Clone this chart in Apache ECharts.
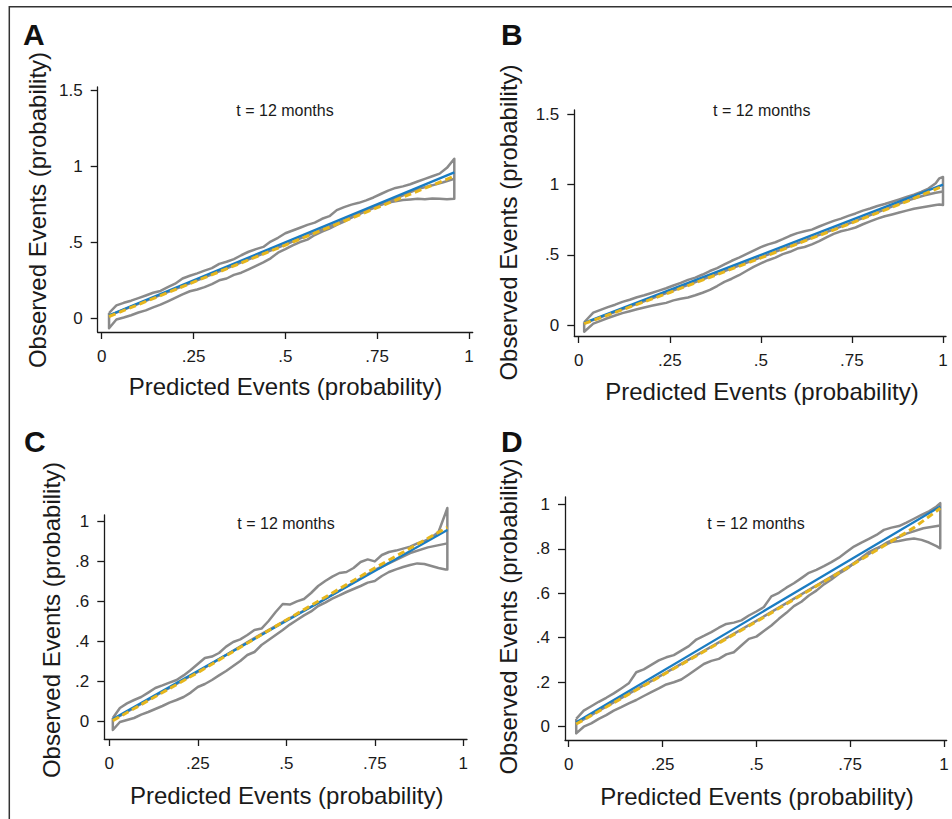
<!DOCTYPE html>
<html><head><meta charset="utf-8">
<script src="https://cdn.jsdelivr.net/npm/echarts@6/dist/echarts.min.js"></script>
<style>html,body{margin:0;padding:0;background:#fff}#c{width:952px;height:819px}</style>
</head><body><div id="c"></div>
<script>
// ---------- tick values / labels ----------
const xTicks = [0, 0.25, 0.5, 0.75, 1];
const xTickLabels = ['0', '.25', '.5', '.75', '1'];
const yTicksAB = [0, 0.5, 1, 1.5];
const yTickLabelsAB = ['0', '.5', '1', '1.5'];
const yTicksCD = [0, 0.2, 0.4, 0.6, 0.8, 1];
const yTickLabelsCD = ['0', '.2', '.4', '.6', '.8', '1'];
const panelLetters = ['A', 'B', 'C', 'D'];
const panelNote = 't = 12 months';
const xTitle = 'Predicted Events (probability)';
const yTitle = 'Observed Events (probability)';

// ---------- Panel A ----------
const xsA = [0.02,0.04,0.06,0.08,0.10,0.12,0.14,0.16,0.18,0.20,0.22,0.24,0.26,0.28,0.30,0.32,0.34,0.36,0.38,0.40,0.42,0.44,0.46,0.48,0.50,0.52,0.54,0.56,0.58,0.60,0.62,0.64,0.66,0.68,0.70,0.72,0.74,0.76,0.78,0.80,0.82,0.84,0.86,0.88,0.90,0.92,0.94,0.96];
const upperA = [0.035,0.085,0.102,0.116,0.133,0.150,0.168,0.180,0.205,0.228,0.262,0.280,0.296,0.314,0.330,0.358,0.372,0.390,0.415,0.438,0.455,0.470,0.505,0.530,0.560,0.578,0.596,0.615,0.630,0.655,0.672,0.712,0.732,0.748,0.760,0.776,0.795,0.818,0.840,0.858,0.868,0.882,0.900,0.918,0.935,0.952,0.990,1.050];
const lowerA = [-0.065,-0.008,0.005,0.020,0.038,0.052,0.072,0.090,0.112,0.135,0.158,0.178,0.190,0.205,0.225,0.250,0.262,0.286,0.300,0.322,0.345,0.368,0.395,0.432,0.455,0.480,0.502,0.518,0.548,0.570,0.590,0.615,0.636,0.662,0.686,0.710,0.730,0.748,0.762,0.770,0.778,0.782,0.786,0.784,0.788,0.786,0.784,0.786];
const midXA = [0.02,0.25,0.50,0.75,0.86,0.90,0.93,0.96];
const midYA = [0.018,0.240,0.485,0.735,0.850,0.875,0.895,0.918];
const yelXA = [0.02,0.25,0.50,0.75,0.96];
const yelYA = [0.012,0.238,0.482,0.728,0.935];
const refA = [0.02, 0.96];

// ---------- Panel B ----------
const xsB = [0.015,0.04,0.06,0.08,0.10,0.12,0.14,0.16,0.18,0.20,0.22,0.24,0.26,0.28,0.30,0.32,0.34,0.36,0.38,0.40,0.42,0.44,0.46,0.48,0.50,0.52,0.54,0.56,0.58,0.60,0.62,0.64,0.66,0.68,0.70,0.72,0.74,0.76,0.78,0.80,0.82,0.84,0.86,0.88,0.90,0.92,0.94,0.96,0.98,0.99,1.00];
const upperB = [0.020,0.088,0.108,0.128,0.145,0.165,0.180,0.198,0.212,0.228,0.245,0.262,0.282,0.300,0.322,0.338,0.360,0.385,0.405,0.432,0.458,0.480,0.505,0.530,0.555,0.575,0.590,0.612,0.636,0.655,0.668,0.680,0.702,0.722,0.742,0.758,0.778,0.795,0.815,0.830,0.848,0.862,0.878,0.895,0.912,0.928,0.948,0.972,1.010,1.045,1.055];
const lowerB = [-0.048,0.010,0.030,0.050,0.068,0.085,0.098,0.112,0.125,0.138,0.148,0.158,0.176,0.188,0.196,0.212,0.230,0.250,0.278,0.308,0.330,0.355,0.385,0.415,0.440,0.462,0.480,0.505,0.522,0.545,0.556,0.575,0.598,0.625,0.650,0.668,0.680,0.695,0.718,0.738,0.758,0.775,0.788,0.802,0.815,0.828,0.838,0.846,0.855,0.858,0.855];
const midXB = [0.015,0.25,0.50,0.75,0.90,0.95,0.98,1.00];
const midYB = [0.012,0.236,0.482,0.732,0.885,0.925,0.942,0.952];
const yelXB = [0.015,0.25,0.50,0.75,0.90,1.00];
const yelYB = [0.010,0.232,0.478,0.728,0.880,0.990];
const refB = [0.015, 1.0];

// ---------- Panel C ----------
const xsC = [0.01,0.03,0.05,0.07,0.09,0.11,0.13,0.15,0.17,0.19,0.21,0.23,0.25,0.27,0.29,0.31,0.33,0.35,0.37,0.39,0.41,0.43,0.45,0.47,0.49,0.51,0.53,0.55,0.57,0.59,0.61,0.63,0.65,0.67,0.69,0.71,0.73,0.75,0.77,0.79,0.81,0.83,0.85,0.87,0.89,0.91,0.93,0.95,0.955];
const upperC = [0.015,0.065,0.088,0.105,0.120,0.142,0.165,0.178,0.192,0.205,0.228,0.255,0.285,0.315,0.322,0.340,0.372,0.395,0.408,0.430,0.455,0.462,0.500,0.545,0.585,0.582,0.598,0.610,0.640,0.675,0.700,0.722,0.740,0.745,0.765,0.795,0.808,0.798,0.830,0.845,0.852,0.862,0.872,0.888,0.900,0.918,0.945,1.040,1.065];
const lowerC = [-0.045,-0.005,0.005,0.015,0.032,0.045,0.060,0.075,0.092,0.105,0.120,0.142,0.170,0.185,0.205,0.228,0.250,0.275,0.300,0.330,0.345,0.380,0.405,0.430,0.455,0.482,0.505,0.528,0.548,0.575,0.592,0.612,0.628,0.645,0.660,0.675,0.692,0.700,0.725,0.745,0.758,0.770,0.780,0.788,0.785,0.775,0.765,0.758,0.758];
const midXC = [0.01,0.25,0.40,0.50,0.60,0.75,0.85,0.90,0.955];
const midYC = [0.005,0.245,0.405,0.505,0.600,0.755,0.840,0.868,0.888];
const yelXC = [0.01,0.25,0.50,0.75,0.955];
const yelYC = [0.002,0.242,0.505,0.765,0.968];
const refC = [0.01, 0.955];

// ---------- Panel D ----------
const xsD = [0.02,0.04,0.06,0.08,0.10,0.12,0.14,0.16,0.18,0.20,0.22,0.24,0.26,0.28,0.30,0.32,0.34,0.36,0.38,0.40,0.42,0.44,0.46,0.48,0.50,0.52,0.54,0.56,0.58,0.60,0.62,0.64,0.66,0.68,0.70,0.72,0.74,0.76,0.78,0.80,0.82,0.84,0.86,0.88,0.90,0.92,0.94,0.96,0.98,0.99];
const upperD = [0.035,0.072,0.092,0.112,0.130,0.150,0.172,0.195,0.245,0.258,0.278,0.298,0.312,0.322,0.342,0.362,0.392,0.408,0.425,0.445,0.462,0.468,0.478,0.500,0.518,0.538,0.586,0.602,0.625,0.645,0.668,0.692,0.705,0.722,0.740,0.760,0.785,0.810,0.828,0.845,0.862,0.885,0.895,0.902,0.918,0.935,0.952,0.968,0.990,1.005];
const lowerD = [-0.030,0.000,0.015,0.035,0.052,0.072,0.088,0.105,0.120,0.138,0.155,0.172,0.190,0.200,0.212,0.235,0.258,0.282,0.296,0.305,0.325,0.335,0.365,0.395,0.405,0.430,0.455,0.485,0.512,0.542,0.562,0.590,0.612,0.640,0.662,0.688,0.708,0.735,0.760,0.785,0.802,0.815,0.830,0.835,0.842,0.846,0.840,0.828,0.812,0.802];
const midXD = [0.02,0.25,0.50,0.75,0.85,0.90,0.945,0.99];
const midYD = [0.014,0.234,0.476,0.724,0.830,0.868,0.892,0.905];
const yelXD = [0.02,0.25,0.50,0.75,0.92,0.99];
const yelYD = [0.012,0.232,0.472,0.722,0.895,0.982];
const refD = [0.02, 0.99];

// ---------- layout ----------
const FONT = '"Liberation Sans", Arial, Helvetica, sans-serif';
const INK = '#1a1a1a';
const GRAY = '#8a8a8a';
const BLUE = '#1a7cc2';
const YELLOW = '#e6b61c';

const panels = [
  {xs:xsA, up:upperA, lo:lowerA, mx:midXA, my:midYA, yx:yelXA, yy:yelYA, ref:refA,
   grid:{left:97.7, top:87, width:375, height:245}, xr:[-0.0109,1.0101], yr:[-0.090,1.522],
   yt:yTicksAB, yl:yTickLabelsAB, letter:[23,34.5], note:[285,110], ytitle:[37.5,210], xtitle:[285.5,386.7]},
  {xs:xsB, up:upperB, lo:lowerB, mx:midXB, my:midYB, yx:yelXB, yy:yelYB, ref:refB,
   grid:{left:574.3, top:110, width:371.7, height:226}, xr:[-0.0121,1.0082], yr:[-0.078,1.532],
   yt:yTicksAB, yl:yTickLabelsAB, letter:[501,34.5], note:[761.7,110], ytitle:[508.5,222.5], xtitle:[762,391.7]},
  {xs:xsC, up:upperC, lo:lowerC, mx:midXC, my:midYC, yx:yelXC, yy:yelYC, ref:refC,
   grid:{left:104.3, top:515, width:362.7, height:224}, xr:[-0.0141,1.0105], yr:[-0.090,1.030],
   yt:yTicksCD, yl:yTickLabelsCD, letter:[24,441.5], note:[286,523], ytitle:[51,620], xtitle:[286.7,795]},
  {xs:xsD, up:upperD, lo:lowerD, mx:midXD, my:midYD, yx:yelXD, yy:yelYD, ref:refD,
   grid:{left:565, top:497, width:381.7, height:243}, xr:[-0.0099,1.0072], yr:[-0.0598,1.0328],
   yt:yTicksCD, yl:yTickLabelsCD, letter:[501,441], note:[756,523], ytitle:[508.5,616.5], xtitle:[757,796.7]}
];

function lookup(vals, labels, v) {
  for (let i = 0; i < vals.length; i++) if (Math.abs(vals[i] - v) < 1e-6) return labels[i];
  return '';
}

const grids = [], xAxes = [], yAxes = [], series = [], graphics = [];
const axisLineStyle = {color: INK, width: 1.3};

panels.forEach((p, i) => {
  grids.push(Object.assign({containLabel:false}, p.grid));
  xAxes.push({
    type:'value', gridIndex:i, min:p.xr[0], max:p.xr[1],
    axisLine:{show:true, onZero:false, lineStyle:axisLineStyle},
    axisTick:{show:true, length:7, lineStyle:axisLineStyle, customValues:xTicks},
    axisLabel:{show:true, customValues:xTicks, margin:16, fontSize:17, color:INK, fontFamily:FONT,
      formatter:(v)=>lookup(xTicks, xTickLabels, v)},
    splitLine:{show:false}
  });
  yAxes.push({
    type:'value', gridIndex:i, min:p.yr[0], max:p.yr[1],
    axisLine:{show:true, onZero:false, lineStyle:axisLineStyle},
    axisTick:{show:true, length:7, lineStyle:axisLineStyle, customValues:p.yt},
    axisLabel:{show:true, customValues:p.yt, margin:15, fontSize:17, color:INK, fontFamily:FONT,
      formatter:(v)=>lookup(p.yt, p.yl, v)},
    splitLine:{show:false}
  });
  // confidence band outline: upper left->right, down the right end, lower right->left, up the left end
  const band = p.xs.map((x, k) => [x, p.up[k]]);
  for (let k = p.xs.length - 1; k >= 0; k--) band.push([p.xs[k], p.lo[k]]);
  band.push([p.xs[0], p.up[0]]);
  const common = {type:'line', xAxisIndex:i, yAxisIndex:i, showSymbol:false, symbol:'none',
    silent:true, clip:false, animation:false};
  series.push(Object.assign({}, common, {data:band, z:2,
    lineStyle:{color:GRAY, width:2.5, join:'round'}}));
  series.push(Object.assign({}, common, {data:p.mx.map((x,k)=>[x,p.my[k]]), z:3,
    lineStyle:{color:GRAY, width:2.5}}));
  series.push(Object.assign({}, common, {data:[[p.ref[0],p.ref[0]],[p.ref[1],p.ref[1]]], z:4,
    lineStyle:{color:BLUE, width:2.3}}));
  series.push(Object.assign({}, common, {data:p.yx.map((x,k)=>[x,p.yy[k]]), z:5,
    lineStyle:{color:YELLOW, width:3, type:[7,4]}}));

  graphics.push({type:'text', x:p.letter[0], y:p.letter[1],
    style:{text:panelLetters[i], font:'bold 30px ' + FONT, fill:'#111', align:'left', verticalAlign:'middle'}});
  graphics.push({type:'text', x:p.note[0], y:p.note[1],
    style:{text:panelNote, font:'16px ' + FONT, fill:INK, align:'center', verticalAlign:'middle'}});
  graphics.push({type:'text', x:p.xtitle[0], y:p.xtitle[1],
    style:{text:xTitle, font:'24px ' + FONT, fill:INK, align:'center', verticalAlign:'middle'}});
  graphics.push({type:'text', x:p.ytitle[0], y:p.ytitle[1], rotation:Math.PI/2,
    style:{text:yTitle, font:'24px ' + FONT, fill:INK, align:'center', verticalAlign:'middle'}});
});

graphics.push({type:'rect', shape:{x:9.3, y:6.7, width:960, height:830},
  style:{fill:'none', stroke:'#333', lineWidth:1.5}, silent:true});

const chart = echarts.init(document.getElementById('c'), null, {renderer:'svg'});
chart.setOption({
  animation:false,
  backgroundColor:'#ffffff',
  grid:grids, xAxis:xAxes, yAxis:yAxes, series:series,
  graphic:{elements:graphics}
});
</script>
</body></html>
